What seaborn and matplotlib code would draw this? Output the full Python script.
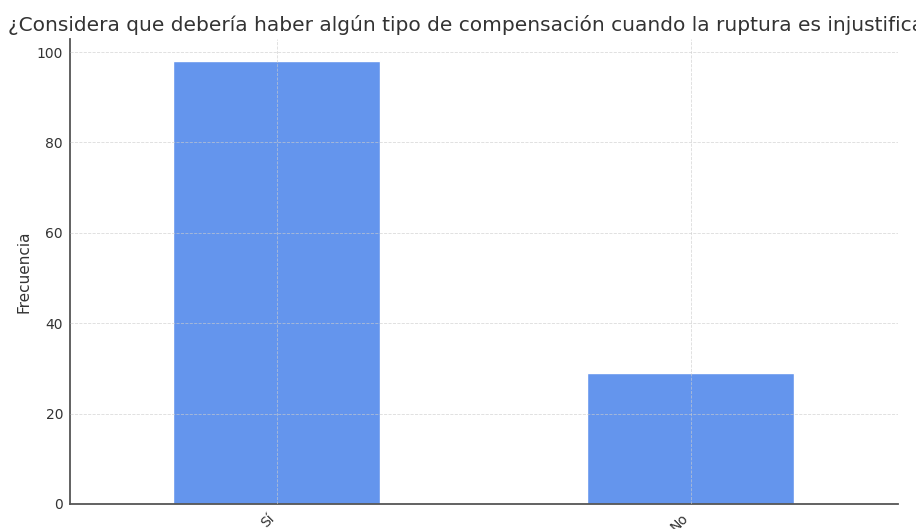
import matplotlib
matplotlib.use('Agg')
import matplotlib.pyplot as plt
import seaborn as sns

# Data
respuestas = ['Sí', 'No']
frecuencia = [98, 29]
titulo = '¿Considera que debería haber algún tipo de compensación cuando la ruptura es injustificada?'

sns.set_style('white')
plt.rcParams['font.family'] = ['DejaVu Sans']

fig = plt.figure(figsize=(9.16, 5.29), dpi=100)
ax = fig.add_axes([0.0764, 0.0473, 0.9036, 0.879])

sns.barplot(x=respuestas, y=frecuencia, color='#6495ED', saturation=1, width=0.5, ax=ax)

ax.set_title(titulo, fontsize=14.5, color='#333333', pad=6)
ax.set_ylabel('Frecuencia', fontsize=11, color='#333333')
ax.set_xlabel('')
ax.set_xlim(-0.5, 1.5)
ax.tick_params(axis='both', labelsize=10, colors='#333333', length=4, direction='in', pad=5)
for lbl in ax.get_xticklabels():
    lbl.set_rotation(45)
    lbl.set_ha('right')

# dashed grid drawn faintly over the bars
ax.set_axisbelow(False)
ax.grid(True, linestyle='--', linewidth=0.6, color='#cccccc', alpha=0.7)

for s in ['top', 'right']:
    ax.spines[s].set_visible(False)
for s in ['left', 'bottom']:
    ax.spines[s].set_color('#555555')
    ax.spines[s].set_linewidth(1.3)

fig.savefig('out.png', dpi=100)
